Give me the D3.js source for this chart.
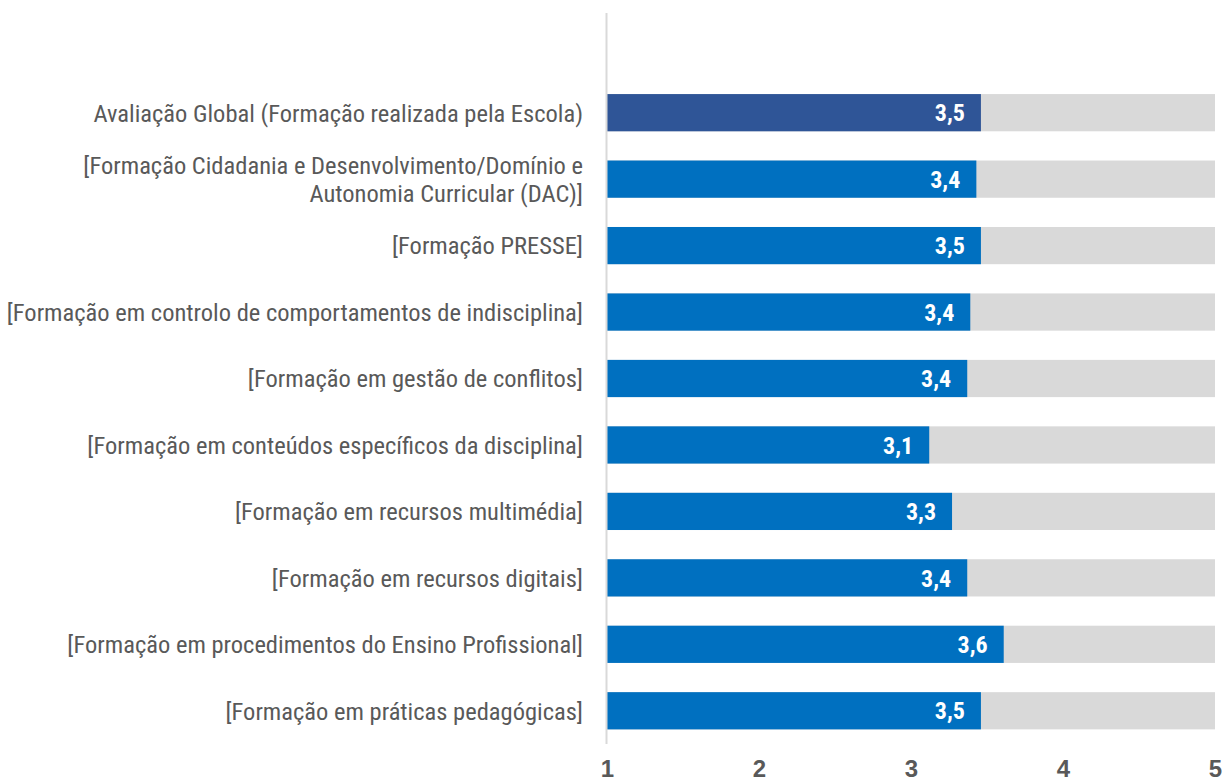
<!DOCTYPE html>
<html>
<head>
<meta charset="utf-8">
<script src="https://cdn.jsdelivr.net/npm/d3@7"></script>
<style>
  body { margin: 0; background: #fff; }
  text { font-family: "Liberation Sans Narrow", "Arial Narrow", "Roboto Condensed", "Liberation Sans", sans-serif; }
</style>
</head>
<body>
<script>
// categories top to bottom (first one is an empty slot in the original)
var categories = [
    "",
    "Avaliação Global (Formação realizada pela Escola)",
    "[Formação Cidadania e Desenvolvimento/Domínio e|Autonomia Curricular (DAC)]",
    "[Formação PRESSE]",
    "[Formação em controlo de comportamentos de indisciplina]",
    "[Formação em gestão de conflitos]",
    "[Formação em conteúdos específicos da disciplina]",
    "[Formação em recursos multimédia]",
    "[Formação em recursos digitais]",
    "[Formação em procedimentos do Ensino Profissional]",
    "[Formação em práticas pedagógicas]"
];
var values = [null, 3.46, 3.43, 3.46, 3.39, 3.37, 3.12, 3.27, 3.37, 3.61, 3.46];
var tickValues = [1, 2, 3, 4, 5];

var darkBlue = "#2f5597";
var blue1 = "#0070c0";
var grey1 = "#d9d9d9";
var textGrey = "#595959";

const w = 1223;
const h = 784;
const plotLeft = 607;
const plotRight = 1215;
const plotTop = 13;
const plotBottom = 744;

const svg = d3.select("body")
    .append("svg")
    .attr("width", w)
    .attr("height", h);

var x = d3.scaleLinear().domain([1, 5]).range([plotLeft, plotRight]);
var y = d3.scaleBand().domain(categories.map((d, i) => i)).range([plotTop, plotBottom]).paddingInner(0.44).paddingOuter(0.22);

var rows = categories.map((c, i) => ({ i: i, label: c, value: values[i] }))
    .filter(d => d.value != null);

// grey background bars up to 5
svg.selectAll("rect.bg")
    .data(rows)
    .enter()
    .append("rect")
    .attr("class", "bg")
    .attr("x", x(1))
    .attr("y", d => y(d.i))
    .attr("width", x(5) - x(1))
    .attr("height", y.bandwidth())
    .attr("fill", grey1);

svg.selectAll("rect.bar")
    .data(rows)
    .enter()
    .append("rect")
    .attr("class", "bar")
    .attr("x", x(1))
    .attr("y", d => y(d.i))
    .attr("width", d => x(d.value) - x(1))
    .attr("height", y.bandwidth())
    .attr("fill", d => d.i == 1 ? darkBlue : blue1);

// value labels
svg.selectAll("text.val")
    .data(rows)
    .enter()
    .append("text")
    .attr("class", "val")
    .attr("x", d => x(d.value) - 16)
    .attr("y", d => y(d.i) + y.bandwidth() / 2)
    .attr("dy", "0.36em")
    .attr("text-anchor", "end")
    .attr("fill", "#fff")
    .attr("font-size", 24)
    .attr("font-weight", "bold")
    .text(d => d3.format(".1f")(d.value).replace(".", ","));

// category labels (| splits lines)
var lab = svg.selectAll("text.cat")
    .data(rows)
    .enter()
    .append("text")
    .attr("class", "cat")
    .attr("text-anchor", "end")
    .attr("fill", textGrey)
    .attr("font-size", 24.5)
    .attr("y", d => y(d.i) + y.bandwidth() / 2);

lab.each(function (d) {
    var parts = d.label.split("|");
    var t = d3.select(this);
    parts.forEach((p, k) => {
        t.append("tspan")
            .attr("x", 583)
            .attr("dy", k == 0 ? (0.36 - (parts.length - 1) * 0.59) + "em" : "1.18em")
            .text(p);
    });
});

// vertical axis line
svg.append("line")
    .attr("x1", x(1) - 0.5)
    .attr("x2", x(1) - 0.5)
    .attr("y1", plotTop)
    .attr("y2", plotBottom)
    .attr("stroke", grey1)
    .attr("stroke-width", 2);

// bottom tick labels
var xAxis = svg.append("g")
    .attr("transform", "translate(0," + (plotBottom + 13) + ")")
    .call(d3.axisBottom(x).tickValues(tickValues).tickSize(0).tickFormat(d3.format("d")));
xAxis.select(".domain").remove();
xAxis.selectAll("text")
    .attr("fill", textGrey)
    .attr("font-size", 24)
    .attr("font-weight", "bold")
    .style("font-family", "'Liberation Sans Narrow', 'Arial Narrow', sans-serif");
</script>
</body>
</html>
